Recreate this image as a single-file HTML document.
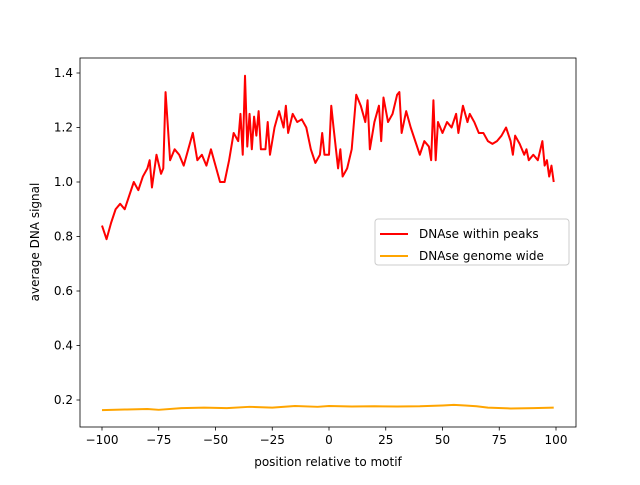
<!DOCTYPE html>
<html><head><meta charset="utf-8"><style>
body{margin:0;background:#fff;}
svg text{font-family:"DejaVu Sans","Liberation Sans",sans-serif;font-size:12px;fill:#000;}
</style></head><body>
<svg id="chart" width="640" height="480">
<rect x="0" y="0" width="640" height="480" fill="#fff"/>
<g id="plot"></g>
</svg>
<script>
const xTicks=[-100,-75,-50,-25,0,25,50,75,100];
const yTicks=[0.2,0.4,0.6,0.8,1.0,1.2,1.4];
const peaksX=[-100,-98,-96,-94,-92,-90,-88,-86,-84,-82,-80,-79,-78,-76,-74,-73,-72,-70,-68,-66,-64,-62,-60,-58,-56,-54,-52,-50,-48,-46,-44,-42,-40,-39,-38,-37,-36,-35,-34,-33,-32,-31,-30,-28,-27,-26,-24,-22,-20,-19,-18,-16,-14,-12,-10,-8,-6,-4,-3,-2,0,1,2,4,5,6,8,10,12,14,16,17,18,20,22,23,24,26,28,30,31,32,34,36,38,40,42,44,45,46,47,48,50,52,54,56,57,59,61,62,64,66,68,70,72,74,76,78,80,81,82,84,86,87,88,90,92,94,95,96,97,98,99];
const peaksY=[0.84,0.79,0.85,0.9,0.92,0.9,0.95,1.0,0.97,1.02,1.05,1.08,0.98,1.1,1.03,1.05,1.33,1.08,1.12,1.1,1.06,1.12,1.18,1.08,1.1,1.06,1.12,1.06,1.0,1.0,1.08,1.18,1.15,1.25,1.1,1.39,1.13,1.25,1.12,1.24,1.17,1.26,1.12,1.12,1.22,1.1,1.2,1.26,1.2,1.28,1.18,1.25,1.22,1.23,1.2,1.12,1.07,1.1,1.18,1.1,1.1,1.28,1.2,1.05,1.12,1.02,1.05,1.12,1.32,1.28,1.22,1.3,1.12,1.22,1.28,1.15,1.31,1.22,1.25,1.32,1.33,1.18,1.26,1.2,1.15,1.1,1.15,1.13,1.08,1.3,1.08,1.22,1.18,1.22,1.2,1.25,1.18,1.28,1.22,1.25,1.22,1.18,1.18,1.15,1.14,1.15,1.17,1.2,1.15,1.1,1.17,1.14,1.1,1.12,1.08,1.1,1.08,1.15,1.06,1.08,1.02,1.06,1.0];
const genomeX=[-100,-90,-80,-75,-65,-55,-45,-35,-25,-15,-5,0,10,20,30,40,50,55,60,65,70,80,90,99];
const genomeY=[0.163,0.165,0.167,0.164,0.17,0.172,0.17,0.175,0.172,0.178,0.175,0.178,0.176,0.177,0.176,0.177,0.18,0.182,0.18,0.177,0.172,0.169,0.17,0.172];
const L=80,R=576,T=58,B=427;
const sx=v=>102+(v+100)*(556-102)/200;
const sy=v=>400-(v-0.2)*(400-73)/1.2;
const NS="http://www.w3.org/2000/svg";
const g=document.getElementById('plot');
function mk(t,a){const e=document.createElementNS(NS,t);for(const k in a)e.setAttribute(k,a[k]);g.appendChild(e);return e;}
function line(xs,ys,c,name){
  const p=mk('polyline',{points:xs.map((x,i)=>sx(x)+','+sy(ys[i])).join(' '),fill:'none',stroke:c,'stroke-width':2,'stroke-linejoin':'round'});
  
  
}
line(genomeX,genomeY,'#ffa500','series-genome-wide');
line(peaksX,peaksY,'#ff0000','series-within-peaks');
const ax=mk('rect',{x:L,y:T,width:R-L,height:B-T,fill:'none',stroke:'#000','stroke-width':0.8});


xTicks.forEach(v=>{
  mk('line',{x1:sx(v),x2:sx(v),y1:B,y2:B+3.5,stroke:'#000','stroke-width':0.8});
  const t=mk('text',{x:sx(v),y:B+17,'text-anchor':'middle'});t.textContent=String(v).replace('-','\u2212');
  
  
});
yTicks.forEach(v=>{
  mk('line',{x1:L-3.5,x2:L,y1:sy(v),y2:sy(v),stroke:'#000','stroke-width':0.8});
  const t=mk('text',{x:L-7,y:sy(v)+4,'text-anchor':'end'});t.textContent=v.toFixed(1);
  
  
});
const xt=mk('text',{x:328,y:466,'text-anchor':'middle'});xt.textContent='position relative to motif';


const yt=mk('text',{x:0,y:0,'text-anchor':'middle',transform:'translate(39,242) rotate(-90)'});yt.textContent='average DNA signal';


const lg=mk('rect',{x:375,y:219,width:194,height:46,rx:3,fill:'#fff','fill-opacity':0.8,stroke:'#ccc'});


[['DNAse within peaks','#ff0000',234],['DNAse genome wide','#ffa500',256]].forEach(([n,c,y])=>{
  mk('line',{x1:380,x2:408,y1:y,y2:y,stroke:c,'stroke-width':2});
  const t=mk('text',{x:419,y:y+4});t.textContent=n;
  
  
});
</script>
</body></html>
